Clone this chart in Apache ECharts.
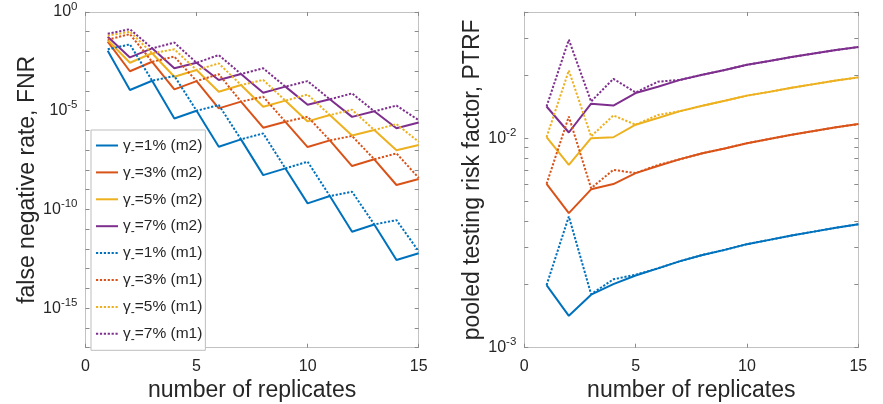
<!DOCTYPE html>
<html><head><meta charset="utf-8">
<script src="https://cdn.jsdelivr.net/npm/echarts@6/dist/echarts.min.js"></script>
<style>html,body{margin:0;padding:0;background:#fff}#c{width:883px;height:404px}</style>
</head><body><div id="c"></div>
<script>
const replicates = [1,2,3,4,5,6,7,8,9,10,11,12,13,14,15];
const gammaLabels = ['1%','3%','5%','7%'];
const colors = ['#0072BD','#D95319','#EDB120','#7E2F8E'];

// Left panel: false negative rate (FNR)
const fnr_m2_g1 = [1.1e-2,1.12e-4,3.31e-4,4.07e-6,1.0e-5,1.51e-7,3.55e-7,5.5e-9,1.2e-8,2.04e-10,4.79e-10,7.41e-12,1.74e-11,2.75e-13,6.03e-13];
const fnr_m2_g3 = [3.16e-2,1.0e-3,3.02e-3,1.2e-4,3.16e-4,1.32e-5,2.88e-5,1.38e-6,2.75e-6,1.45e-7,3.16e-7,1.58e-8,3.47e-8,1.74e-9,3.47e-9];
const fnr_m2_g5 = [3.8e-2,2.69e-3,8.13e-3,5.25e-4,1.15e-3,9.12e-5,2.0e-4,1.58e-5,3.24e-5,2.88e-6,6.03e-6,5.62e-7,1.05e-6,1.0e-7,1.82e-7];
const fnr_m2_g7 = [5.62e-2,5.01e-3,1.45e-2,1.41e-3,2.69e-3,3.63e-4,7.24e-4,8.13e-5,1.66e-4,2.0e-5,3.8e-5,4.9e-6,9.33e-6,1.29e-6,2.51e-6];
const fnr_m1_g1 = [1.29e-2,2.29e-2,3.31e-4,5.75e-4,1.0e-5,1.95e-5,3.55e-7,7.08e-7,1.2e-8,2.63e-8,4.79e-10,7.94e-10,1.74e-11,2.88e-11,7.59e-13];
const fnr_m1_g3 = [3.98e-2,7.59e-2,3.02e-3,5.5e-3,3.16e-4,7.08e-4,2.88e-5,5.13e-5,2.75e-6,5.01e-6,3.16e-7,5.25e-7,3.47e-8,6.92e-8,3.98e-9];
const fnr_m1_g5 = [6.31e-2,1.0e-1,8.13e-3,1.29e-2,1.15e-3,2.51e-3,2.0e-4,3.63e-4,3.24e-5,6.61e-5,6.03e-6,1.12e-5,1.05e-6,2.09e-6,2.69e-7];
const fnr_m1_g7 = [7.94e-2,1.35e-1,1.45e-2,2.82e-2,2.69e-3,6.61e-3,7.24e-4,1.41e-3,1.66e-4,3.16e-4,3.8e-5,7.59e-5,9.33e-6,1.82e-5,3.31e-6];

// Right panel: pooled testing risk factor (PTRF)
const ptrf_m2_g1 = [0.00199,0.00142,0.00179,0.00201,0.00221,0.00239,0.00259,0.00277,0.00293,0.00312,0.00327,0.00343,0.00358,0.00374,0.00388];
const ptrf_m2_g3 = [0.00605,0.00439,0.00570,0.00604,0.00681,0.00736,0.00794,0.00847,0.00893,0.00946,0.00991,0.01038,0.01081,0.01127,0.01167];
const ptrf_m2_g5 = [0.01011,0.00745,0.01000,0.01010,0.01159,0.01247,0.01346,0.01429,0.01507,0.01596,0.01663,0.01738,0.01811,0.01884,0.0195];
const ptrf_m2_g7 = [0.01416,0.01064,0.0146,0.0143,0.01641,0.01758,0.01897,0.02009,0.02113,0.02239,0.02333,0.02438,0.02535,0.02636,0.02723];
const ptrf_m1_g1 = [0.00199,0.00423,0.00180,0.00212,0.00223,0.00239,0.00259,0.00277,0.00293,0.00312,0.00327,0.00343,0.00358,0.00374,0.00388];
const ptrf_m1_g3 = [0.00605,0.01268,0.00577,0.00706,0.00681,0.00745,0.00794,0.00847,0.00893,0.00946,0.00991,0.01038,0.01081,0.01127,0.01167];
const ptrf_m1_g5 = [0.01011,0.02104,0.0102,0.01283,0.01159,0.0129,0.01346,0.01429,0.01507,0.01596,0.01663,0.01738,0.01811,0.01884,0.0195];
const ptrf_m1_g7 = [0.01416,0.0295,0.01496,0.0192,0.01652,0.0186,0.01897,0.02009,0.02113,0.02239,0.02333,0.02438,0.02535,0.02636,0.02723];

// Axis ticks / labels
const xTickLabels = [0,5,10,15];
const fnrTicks = [1,1e-1,1e-2,1e-3,1e-4,1e-5,1e-6,1e-7,1e-8,1e-9,1e-10,1e-11,1e-12,1e-13,1e-14,1e-15,1e-16,1e-17];
const fnrTickLabels = [1,1e-5,1e-10,1e-15];
const ptrfTicks = [0.001,0.002,0.003,0.004,0.005,0.006,0.007,0.008,0.009,0.01,0.02,0.03,0.04];
const ptrfTickLabels = [0.001,0.01];

const FONT = '"Liberation Sans", Arial, Helvetica, sans-serif';
const TXT = '#262626';
const AXC = '#c2c2c2';
const TKC = '#8a8a8a';

const fnrM2 = [fnr_m2_g1,fnr_m2_g3,fnr_m2_g5,fnr_m2_g7];
const fnrM1 = [fnr_m1_g1,fnr_m1_g3,fnr_m1_g5,fnr_m1_g7];
const ptrfM2 = [ptrf_m2_g1,ptrf_m2_g3,ptrf_m2_g5,ptrf_m2_g7];
const ptrfM1 = [ptrf_m1_g1,ptrf_m1_g3,ptrf_m1_g5,ptrf_m1_g7];

function pairs(vals){ return replicates.map((x,i)=>[x, vals[i]]); }
function pow10Label(v){ const e = Math.round(Math.log10(v)); return '{b|10}{s|' + e + '}'; }
const powRich = {
  b:{fontSize:16, fontFamily:FONT, color:TXT, lineHeight:23, verticalAlign:'middle'},
  s:{fontSize:11.5, fontFamily:FONT, color:TXT, lineHeight:11, verticalAlign:'top'}
};

const series = [];
const legendNames = [];
function addSet(arrs, method, xi, yi, inLegend){
  arrs.forEach((vals, k) => {
    const name = gammaLabels[k] + '|' + method + (inLegend ? '' : '|r');
    if (inLegend) legendNames.push(name);
    series.push({
      name, type:'line', xAxisIndex:xi, yAxisIndex:yi, data:pairs(vals),
      symbol:'none', showSymbol:false, animation:false, silent:true,
      lineStyle:{color:colors[k], width:2, type: method==='m1' ? [2.2,1.7] : 'solid', cap:'butt'},
      itemStyle:{color:colors[k]}
    });
  });
}
addSet(fnrM2,'m2',0,0,true);
addSet(fnrM1,'m1',0,0,true);
addSet(ptrfM2,'m2',2,2,false);
addSet(ptrfM1,'m1',2,2,false);

function xAx(gi, top, withName){
  return {
    type:'value', gridIndex:gi, position: top ? 'top':'bottom', min:0, max:15, interval:5,
    axisLine:{show:true, onZero:false, lineStyle:{color:AXC, width:1}},
    axisTick:{show:true, inside:true, length:4, lineStyle:{color:TKC}},
    axisLabel:{show:!top, fontSize:16, color:TXT, fontFamily:FONT, margin:11,
      customValues: xTickLabels},
    splitLine:{show:false},
    name: withName ? 'number of replicates' : '',
    nameLocation:'middle', nameGap:31.5,
    nameTextStyle:{fontSize:23, color:TXT, fontFamily:FONT}
  };
}
function yAx(gi, right, min, max, ticks, labels, name, nameGap){
  return {
    type:'log', logBase:10, gridIndex:gi, position: right ? 'right':'left', min, max,
    axisLine:{show:true, onZero:false, lineStyle:{color:AXC, width:1}},
    axisTick:{show:true, inside:true, length:4, lineStyle:{color:TKC}, customValues: ticks},
    axisLabel:{show:!right, customValues: labels, formatter: pow10Label, rich: powRich, margin:8},
    splitLine:{show:false}, minorTick:{show:false},
    name: right ? '' : name, nameLocation:'middle', nameGap, nameRotate:90,
    nameTextStyle:{fontSize:23, color:TXT, fontFamily:FONT}
  };
}

function gridBox(left, width){
  return {left, top:12, width, height:335.7, containLabel:false, outerBoundsMode:'none'};
}

const option = {
  backgroundColor:'#fff',
  animation:false,
  grid:[ gridBox(85.5,333.2), gridBox(85.5,333.2), gridBox(524.3,334), gridBox(524.3,334) ],
  xAxis:[ xAx(0,false,true), xAx(1,true,false), xAx(2,false,true), xAx(3,true,false) ],
  yAxis:[
    yAx(0,false,1e-17,1,fnrTicks,fnrTickLabels,'false negative rate, FNR',45),
    yAx(1,true,1e-17,1,fnrTicks,fnrTickLabels,'',0),
    yAx(2,false,0.001,0.04,ptrfTicks,ptrfTickLabels,'pooled testing risk factor, PTRF',35),
    yAx(3,true,0.001,0.04,ptrfTicks,ptrfTickLabels,'',0)
  ],
  legend:{
    show:true, orient:'vertical', left:91, top:130, data:legendNames,
    itemWidth:22, itemHeight:14, itemGap:3.9, padding:[4,3,5,4],
    backgroundColor:'#fff', borderColor:'#bdbdbd', borderWidth:1, borderRadius:0,
    selectedMode:false,
    itemStyle:{opacity:0, borderWidth:0},
    formatter: function(name){
      const p = name.split('|');
      return '{g|γ}{sub|-}{t|=' + p[0] + ' (' + p[1] + ')}';
    },
    textStyle:{
      fontFamily:FONT, fontSize:15.5, color:TXT,
      rich:{
        g:{fontSize:15.5, fontFamily:FONT, color:TXT, lineHeight:22, verticalAlign:'middle'},
        sub:{fontSize:12, fontFamily:FONT, color:TXT, lineHeight:11, padding:[11,0,0,0], verticalAlign:'middle'},
        t:{fontSize:15.5, fontFamily:FONT, color:TXT, lineHeight:22, verticalAlign:'middle'}
      }
    }
  },
  series
};
const chart = echarts.init(document.getElementById('c'), null, {renderer:'canvas'});
chart.setOption(option);
</script>
</body></html>
